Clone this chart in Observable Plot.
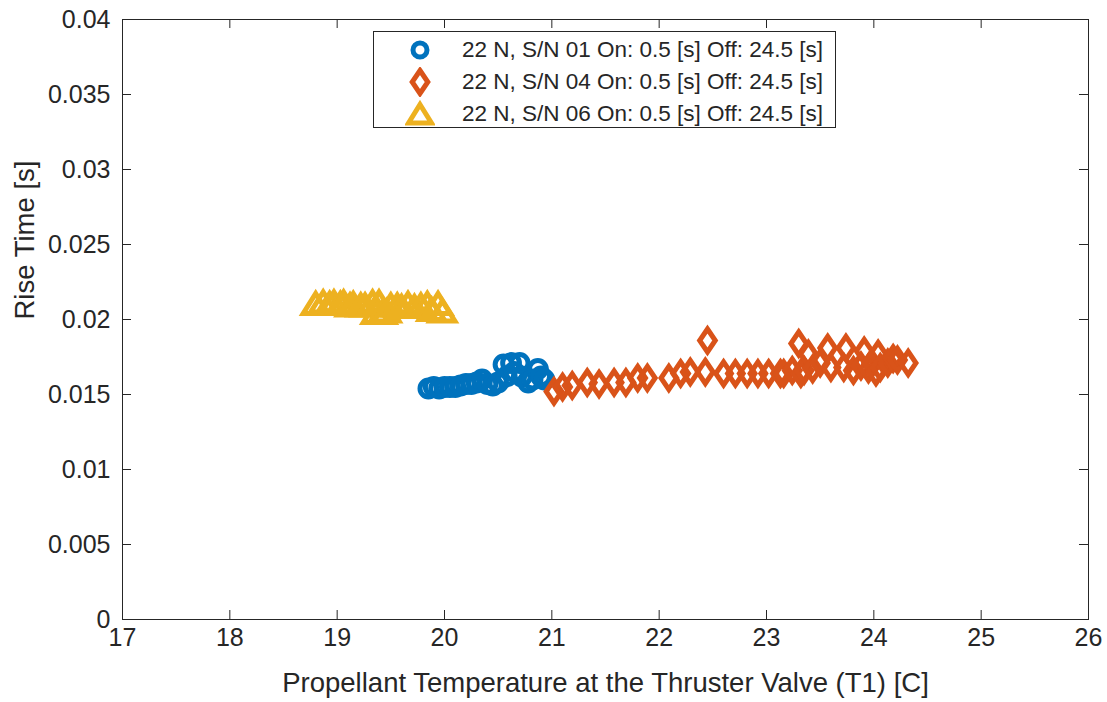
<!DOCTYPE html>
<html>
<head>
<meta charset="utf-8">
<script src="https://cdn.jsdelivr.net/npm/d3@7"></script>
<script src="https://cdn.jsdelivr.net/npm/@observablehq/plot@0.6"></script>
<style>
  html, body { margin: 0; padding: 0; background: #fff; }
  #wrap { position: relative; width: 1107px; height: 702px; font-family: "Liberation Sans", Arial, Helvetica, sans-serif; color: #262626; }
  #legend { position: absolute; left: 373px; top: 31px; width: 463px; height: 97px; box-sizing: border-box; border: 1px solid #262626; background: #fff; }
  .row { position: absolute; left: 0; height: 30px; font-size: 22.5px; white-space: nowrap; }
  .row svg { position: absolute; left: 31px; top: 0; }
  .row span { position: absolute; left: 88px; top: 2px; line-height: 26px; }
</style>
</head>
<body>
<div id="wrap"><div id="chart"></div><div id="legend"></div></div>
<script>
// ---- data ----
const seriesNames = [
  "22 N, S/N 01 On: 0.5 [s] Off: 24.5 [s]",
  "22 N, S/N 04 On: 0.5 [s] Off: 24.5 [s]",
  "22 N, S/N 06 On: 0.5 [s] Off: 24.5 [s]"
];
const seriesColors = ["#0072BD", "#D95319", "#EDB120"];

const sn01Temp = [19.85,19.90,19.95,20.00,20.05,20.10,20.15,20.20,20.25,20.30,20.35,20.40,20.45,20.50,20.55,20.58,20.62,20.65,20.70,20.72,20.78,20.82,20.87,20.90,20.93];
const sn01Rise = [0.0154,0.0155,0.0154,0.0155,0.0155,0.0155,0.0156,0.0157,0.0157,0.0158,0.0160,0.0157,0.0156,0.0158,0.0170,0.0162,0.0171,0.0165,0.0171,0.0162,0.0158,0.0160,0.0167,0.0162,0.0160];

const sn04Temp = [21.02,21.10,21.19,21.33,21.44,21.58,21.69,21.80,21.89,22.09,22.20,22.29,22.43,22.45,22.60,22.71,22.82,22.92,23.02,23.13,23.16,23.24,23.30,23.32,23.35,23.39,23.43,23.50,23.57,23.60,23.72,23.74,23.81,23.88,23.91,23.95,23.98,24.02,24.04,24.06,24.13,24.18,24.22,24.32];
const sn04Rise = [0.0152,0.0155,0.0156,0.0158,0.0157,0.0158,0.0158,0.0161,0.0161,0.0161,0.0164,0.0165,0.0165,0.0186,0.0164,0.0164,0.0164,0.0164,0.0164,0.0164,0.0164,0.0166,0.0184,0.0164,0.0166,0.0177,0.0167,0.0171,0.0181,0.0168,0.0168,0.0181,0.0166,0.0169,0.0179,0.0167,0.0171,0.0165,0.0177,0.0168,0.0171,0.0174,0.0173,0.0171];

const sn06Temp = [18.80,18.87,18.93,18.97,19.03,19.06,19.12,19.15,19.22,19.26,19.33,19.36,19.39,19.42,19.46,19.50,19.56,19.60,19.66,19.72,19.78,19.84,19.88,19.94,19.98];
const sn06Rise = [0.0210,0.0211,0.0210,0.0211,0.0210,0.0211,0.0209,0.0210,0.0209,0.0209,0.0211,0.0204,0.0211,0.0204,0.0205,0.0209,0.0209,0.0208,0.0210,0.0208,0.0209,0.0210,0.0206,0.0210,0.0205];

const xTicks = [17,18,19,20,21,22,23,24,25,26];
const yTicks = [0,0.005,0.01,0.015,0.02,0.025,0.03,0.035,0.04];
const yTickLabels = ["0","0.005","0.01","0.015","0.02","0.025","0.03","0.035","0.04"];
const xLabel = "Propellant Temperature at the Thruster Valve (T1) [C]";
const yLabel = "Rise Time [s]";

// ---- marker symbols (MATLAB-like) ----
const symCircle = { draw(ctx) { const r = 8.4; ctx.moveTo(r, 0); ctx.arc(0, 0, r, 0, 2 * Math.PI); } };
const symDiamond = { draw(ctx) { const w = 7.8, h = 11.5; ctx.moveTo(0, -h); ctx.lineTo(w, 0); ctx.lineTo(0, h); ctx.lineTo(-w, 0); ctx.closePath(); } };
const symTriangle = { draw(ctx) { const w = 12.5, t = -11, b = 9; ctx.moveTo(0, t); ctx.lineTo(w, b); ctx.lineTo(-w, b); ctx.closePath(); } };
const symbols = [symCircle, symDiamond, symTriangle];

const table = [];
[[sn01Temp, sn01Rise], [sn04Temp, sn04Rise], [sn06Temp, sn06Rise]].forEach(([xs, ys], k) => {
  xs.forEach((x, i) => table.push({ series: k, temp: x, rise: ys[i] }));
});

const ink = "#262626";
const xTickLen = 9 / 107.2;   // inward tick length in data units
const yTickLen = 9 / 15000;

const chart = Plot.plot({
  width: 1107,
  height: 702,
  marginLeft: 122,
  marginRight: 19,
  marginTop: 19,
  marginBottom: 83,
  style: { fontFamily: '"Liberation Sans", Arial, Helvetica, sans-serif', fontSize: "25px", color: ink, background: "#fff" },
  x: { domain: [17, 26], axis: null },
  y: { domain: [0, 0.04], axis: null },
  marks: [
    Plot.frame({ stroke: ink, strokeWidth: 1 }),
    Plot.ruleX(xTicks, { x: d => d, y1: 0, y2: yTickLen, stroke: ink }),
    Plot.ruleX(xTicks, { x: d => d, y1: 0.04 - yTickLen, y2: 0.04, stroke: ink }),
    Plot.ruleY(yTicks, { y: d => d, x1: 17, x2: 17 + xTickLen, stroke: ink }),
    Plot.ruleY(yTicks, { y: d => d, x1: 26 - xTickLen, x2: 26, stroke: ink }),
    Plot.axisX({ ticks: xTicks, tickSize: 0, tickPadding: 9, label: null, fontSize: 25, tickFormat: d => String(d) }),
    Plot.axisY({ ticks: yTicks, tickSize: 0, tickPadding: 12, label: null, fontSize: 25, tickFormat: (d, i) => yTickLabels[i] }),
    Plot.text([xLabel], { frameAnchor: "bottom", dy: 72, fontSize: 27.5, fill: ink }),
    Plot.text([yLabel], { frameAnchor: "left", dx: -97, rotate: -90, fontSize: 27.5, fill: ink }),
    Plot.dot(table, {
      x: "temp", y: "rise",
      symbol: d => symbols[d.series],
      stroke: d => seriesColors[d.series],
      fill: "none", strokeWidth: 5, strokeLinejoin: "miter", r: 8
    })
  ]
});
document.getElementById("chart").appendChild(chart);

// ---- legend ----
const legend = document.getElementById("legend");
const paths = [
  '<circle cx="15" cy="15" r="7"/>',
  '<path d="M15,3.5L22.8,15L15,26.5L7.2,15Z"/>',
  '<path d="M15,5.5L26.5,24L3.5,24Z"/>'
];
seriesNames.forEach((name, i) => {
  const row = document.createElement("div");
  row.className = "row";
  row.style.top = (3 + i * 32) + "px";
  row.innerHTML = `<svg width="30" height="30"><g fill="none" stroke="${seriesColors[i]}" stroke-width="5" stroke-linejoin="miter">${paths[i]}</g></svg><span>${name}</span>`;
  legend.appendChild(row);
});
</script>
</body>
</html>
